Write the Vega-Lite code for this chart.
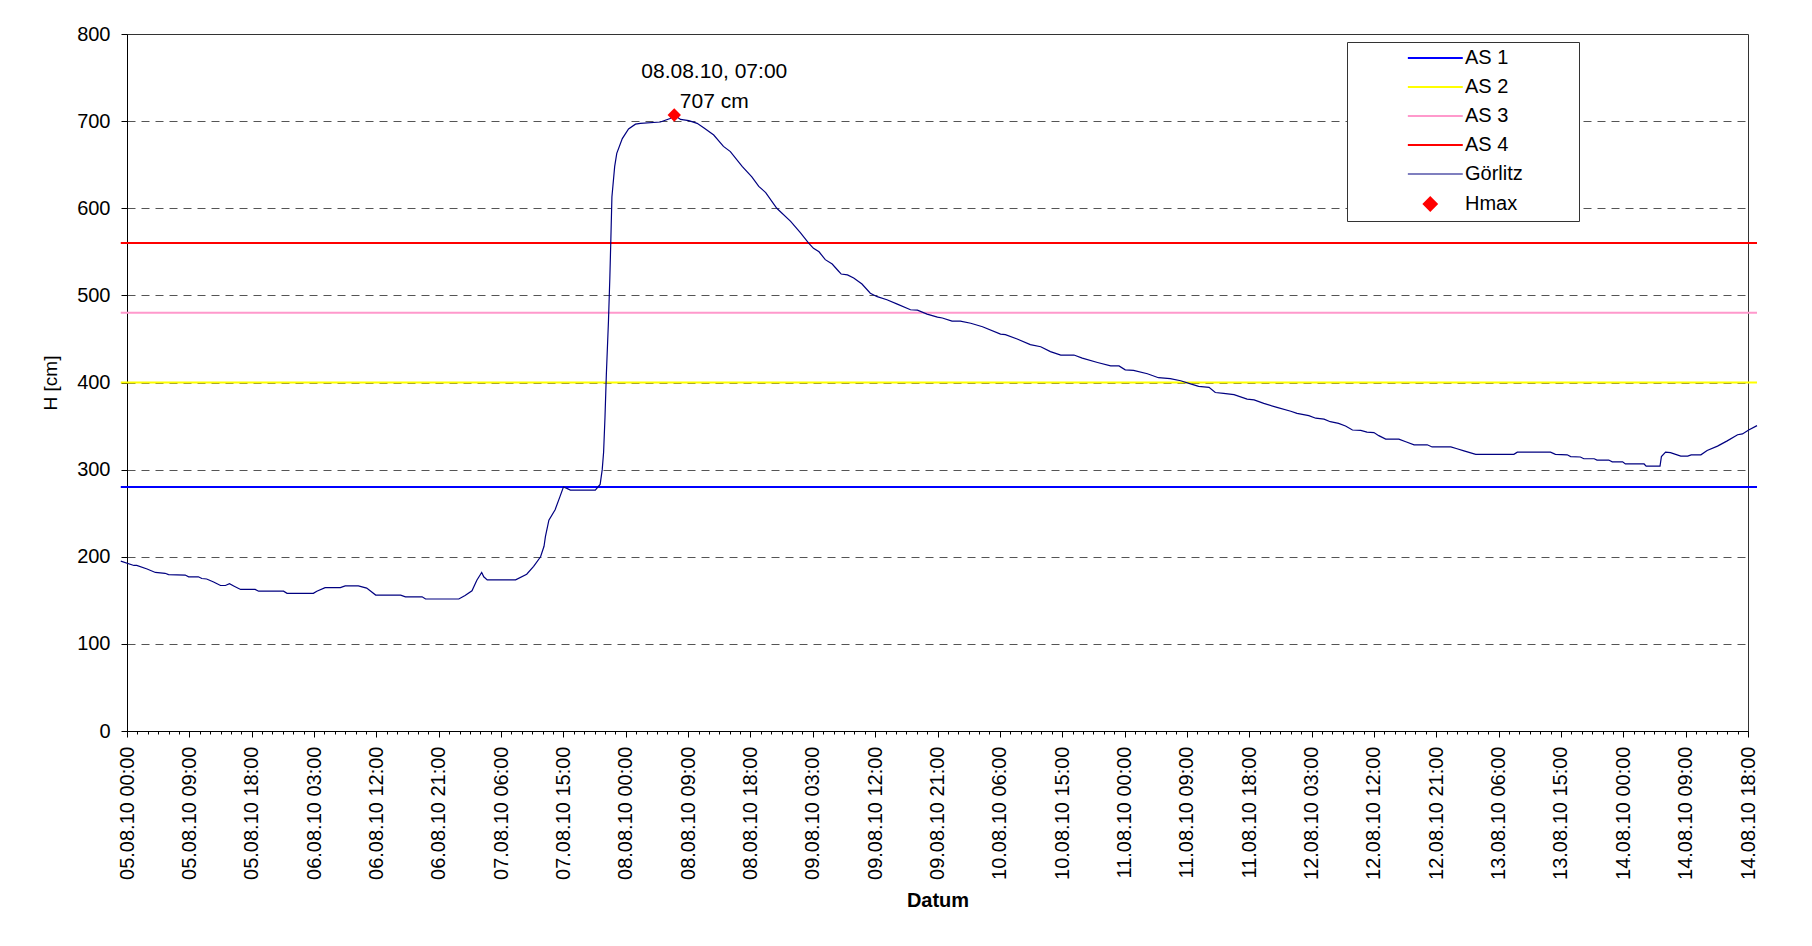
{
  "$schema": "https://vega.github.io/schema/vega-lite/v6.json",
  "width": 1621,
  "height": 697,
  "autosize": {"type": "none"},
  "padding": {"left": 127, "top": 34, "right": 64, "bottom": 215},
  "background": "white",
  "config": {
    "font": "Liberation Sans",
    "view": {"stroke": "#333", "strokeWidth": 1},
    "axis": {"labelFont": "Liberation Sans", "titleFont": "Liberation Sans", "labelColor": "black", "titleColor": "black", "domainColor": "black", "tickColor": "black"}
  },
  "datasets": {
    "levels": [
      {"series": "AS 1", "level": 280},
      {"series": "AS 2", "level": 400},
      {"series": "AS 3", "level": 480},
      {"series": "AS 4", "level": 560}
    ],
    "goerlitz": [
      {"t": "2010-08-04T23:06", "h": 195},
      {"t": "2010-08-05T01:00", "h": 190},
      {"t": "2010-08-05T01:24", "h": 190},
      {"t": "2010-08-05T02:54", "h": 186},
      {"t": "2010-08-05T04:06", "h": 182},
      {"t": "2010-08-05T05:30", "h": 181},
      {"t": "2010-08-05T06:00", "h": 179.5},
      {"t": "2010-08-05T08:24", "h": 179},
      {"t": "2010-08-05T08:54", "h": 177},
      {"t": "2010-08-05T10:18", "h": 177},
      {"t": "2010-08-05T10:48", "h": 175},
      {"t": "2010-08-05T11:30", "h": 174.5},
      {"t": "2010-08-05T12:30", "h": 171},
      {"t": "2010-08-05T13:30", "h": 167},
      {"t": "2010-08-05T14:12", "h": 167},
      {"t": "2010-08-05T14:48", "h": 169},
      {"t": "2010-08-05T15:24", "h": 166.5},
      {"t": "2010-08-05T16:24", "h": 162.5},
      {"t": "2010-08-05T18:30", "h": 162.5},
      {"t": "2010-08-05T19:00", "h": 160.5},
      {"t": "2010-08-05T22:36", "h": 160.5},
      {"t": "2010-08-05T23:06", "h": 158},
      {"t": "2010-08-06T02:54", "h": 158},
      {"t": "2010-08-06T03:24", "h": 160.5},
      {"t": "2010-08-06T04:36", "h": 164.5},
      {"t": "2010-08-06T06:48", "h": 164.5},
      {"t": "2010-08-06T07:30", "h": 166.5},
      {"t": "2010-08-06T09:24", "h": 166.5},
      {"t": "2010-08-06T10:36", "h": 164},
      {"t": "2010-08-06T11:54", "h": 156},
      {"t": "2010-08-06T15:30", "h": 156},
      {"t": "2010-08-06T16:12", "h": 154},
      {"t": "2010-08-06T18:36", "h": 154},
      {"t": "2010-08-06T19:06", "h": 151.5},
      {"t": "2010-08-06T23:54", "h": 151.5},
      {"t": "2010-08-07T00:48", "h": 155.5},
      {"t": "2010-08-07T01:48", "h": 161},
      {"t": "2010-08-07T02:30", "h": 173},
      {"t": "2010-08-07T03:12", "h": 182},
      {"t": "2010-08-07T03:30", "h": 177},
      {"t": "2010-08-07T04:00", "h": 173.5},
      {"t": "2010-08-07T08:06", "h": 173.5},
      {"t": "2010-08-07T09:42", "h": 180},
      {"t": "2010-08-07T10:42", "h": 189},
      {"t": "2010-08-07T11:42", "h": 200},
      {"t": "2010-08-07T12:12", "h": 212},
      {"t": "2010-08-07T12:24", "h": 223},
      {"t": "2010-08-07T12:54", "h": 242},
      {"t": "2010-08-07T13:48", "h": 254},
      {"t": "2010-08-07T14:30", "h": 269},
      {"t": "2010-08-07T15:00", "h": 280},
      {"t": "2010-08-07T15:30", "h": 278.5},
      {"t": "2010-08-07T16:00", "h": 276.5},
      {"t": "2010-08-07T19:36", "h": 276.5},
      {"t": "2010-08-07T20:18", "h": 283},
      {"t": "2010-08-07T20:36", "h": 300},
      {"t": "2010-08-07T20:48", "h": 320},
      {"t": "2010-08-07T21:00", "h": 360},
      {"t": "2010-08-07T21:12", "h": 410},
      {"t": "2010-08-07T21:30", "h": 470},
      {"t": "2010-08-07T21:42", "h": 520},
      {"t": "2010-08-07T21:51", "h": 565},
      {"t": "2010-08-07T22:00", "h": 613},
      {"t": "2010-08-07T22:24", "h": 648},
      {"t": "2010-08-07T22:42", "h": 663},
      {"t": "2010-08-07T23:30", "h": 680},
      {"t": "2010-08-08T00:24", "h": 691},
      {"t": "2010-08-08T01:24", "h": 696.5},
      {"t": "2010-08-08T02:06", "h": 697.5},
      {"t": "2010-08-08T05:00", "h": 699},
      {"t": "2010-08-08T06:24", "h": 703},
      {"t": "2010-08-08T07:00", "h": 707},
      {"t": "2010-08-08T07:54", "h": 702},
      {"t": "2010-08-08T09:06", "h": 700.5},
      {"t": "2010-08-08T10:18", "h": 697.5},
      {"t": "2010-08-08T11:18", "h": 692},
      {"t": "2010-08-08T12:42", "h": 684},
      {"t": "2010-08-08T14:06", "h": 671},
      {"t": "2010-08-08T15:06", "h": 665},
      {"t": "2010-08-08T16:48", "h": 648},
      {"t": "2010-08-08T18:12", "h": 636},
      {"t": "2010-08-08T19:12", "h": 625},
      {"t": "2010-08-08T20:12", "h": 618},
      {"t": "2010-08-08T21:48", "h": 600},
      {"t": "2010-08-08T23:48", "h": 585},
      {"t": "2010-08-09T01:12", "h": 572},
      {"t": "2010-08-09T02:24", "h": 560},
      {"t": "2010-08-09T03:06", "h": 554},
      {"t": "2010-08-09T03:54", "h": 550},
      {"t": "2010-08-09T04:48", "h": 541},
      {"t": "2010-08-09T05:48", "h": 536},
      {"t": "2010-08-09T06:42", "h": 528},
      {"t": "2010-08-09T07:06", "h": 524.5},
      {"t": "2010-08-09T08:00", "h": 523.5},
      {"t": "2010-08-09T08:54", "h": 520},
      {"t": "2010-08-09T10:06", "h": 513},
      {"t": "2010-08-09T11:18", "h": 502.5},
      {"t": "2010-08-09T12:18", "h": 498.5},
      {"t": "2010-08-09T13:42", "h": 495},
      {"t": "2010-08-09T15:12", "h": 490},
      {"t": "2010-08-09T17:06", "h": 483.5},
      {"t": "2010-08-09T18:06", "h": 483},
      {"t": "2010-08-09T19:30", "h": 478.5},
      {"t": "2010-08-09T21:00", "h": 475},
      {"t": "2010-08-09T21:42", "h": 474},
      {"t": "2010-08-09T23:06", "h": 470.5},
      {"t": "2010-08-10T00:18", "h": 470.5},
      {"t": "2010-08-10T01:48", "h": 468},
      {"t": "2010-08-10T03:30", "h": 464},
      {"t": "2010-08-10T06:06", "h": 455.5},
      {"t": "2010-08-10T06:48", "h": 455},
      {"t": "2010-08-10T08:30", "h": 450},
      {"t": "2010-08-10T10:24", "h": 443.5},
      {"t": "2010-08-10T11:54", "h": 441},
      {"t": "2010-08-10T13:18", "h": 435.5},
      {"t": "2010-08-10T14:48", "h": 431.5},
      {"t": "2010-08-10T16:42", "h": 431.5},
      {"t": "2010-08-10T17:54", "h": 428},
      {"t": "2010-08-10T20:06", "h": 423},
      {"t": "2010-08-10T22:00", "h": 419},
      {"t": "2010-08-10T23:12", "h": 419},
      {"t": "2010-08-11T00:06", "h": 414.5},
      {"t": "2010-08-11T01:18", "h": 414},
      {"t": "2010-08-11T03:18", "h": 410},
      {"t": "2010-08-11T04:54", "h": 405.5},
      {"t": "2010-08-11T06:36", "h": 404.5},
      {"t": "2010-08-11T08:06", "h": 402},
      {"t": "2010-08-11T09:18", "h": 399},
      {"t": "2010-08-11T10:42", "h": 395.5},
      {"t": "2010-08-11T12:12", "h": 394.5},
      {"t": "2010-08-11T13:06", "h": 388.5},
      {"t": "2010-08-11T14:18", "h": 387.5},
      {"t": "2010-08-11T15:48", "h": 386},
      {"t": "2010-08-11T17:42", "h": 381},
      {"t": "2010-08-11T18:42", "h": 380},
      {"t": "2010-08-11T20:06", "h": 376},
      {"t": "2010-08-11T22:00", "h": 371.5},
      {"t": "2010-08-12T00:00", "h": 367},
      {"t": "2010-08-12T00:54", "h": 364.5},
      {"t": "2010-08-12T02:36", "h": 362},
      {"t": "2010-08-12T03:36", "h": 359},
      {"t": "2010-08-12T04:48", "h": 358},
      {"t": "2010-08-12T05:42", "h": 355},
      {"t": "2010-08-12T06:54", "h": 353},
      {"t": "2010-08-12T07:54", "h": 350},
      {"t": "2010-08-12T08:54", "h": 345.5},
      {"t": "2010-08-12T10:06", "h": 345},
      {"t": "2010-08-12T11:00", "h": 343},
      {"t": "2010-08-12T12:00", "h": 342.5},
      {"t": "2010-08-12T12:42", "h": 339},
      {"t": "2010-08-12T13:42", "h": 335},
      {"t": "2010-08-12T15:36", "h": 335},
      {"t": "2010-08-12T16:36", "h": 332},
      {"t": "2010-08-12T17:48", "h": 328.5},
      {"t": "2010-08-12T19:42", "h": 328.5},
      {"t": "2010-08-12T20:24", "h": 326},
      {"t": "2010-08-12T23:06", "h": 326},
      {"t": "2010-08-13T00:00", "h": 324},
      {"t": "2010-08-13T01:00", "h": 321.5},
      {"t": "2010-08-13T02:42", "h": 317.5},
      {"t": "2010-08-13T08:12", "h": 317.5},
      {"t": "2010-08-13T08:42", "h": 320},
      {"t": "2010-08-13T13:30", "h": 320},
      {"t": "2010-08-13T14:12", "h": 317.5},
      {"t": "2010-08-13T15:54", "h": 317},
      {"t": "2010-08-13T16:24", "h": 315},
      {"t": "2010-08-13T17:48", "h": 314.5},
      {"t": "2010-08-13T18:18", "h": 312.5},
      {"t": "2010-08-13T19:48", "h": 312.5},
      {"t": "2010-08-13T20:12", "h": 311},
      {"t": "2010-08-13T21:54", "h": 311},
      {"t": "2010-08-13T22:24", "h": 309},
      {"t": "2010-08-13T23:54", "h": 309},
      {"t": "2010-08-14T00:18", "h": 306.5},
      {"t": "2010-08-14T03:00", "h": 306.5},
      {"t": "2010-08-14T03:18", "h": 304},
      {"t": "2010-08-14T05:18", "h": 304},
      {"t": "2010-08-14T05:30", "h": 315},
      {"t": "2010-08-14T06:06", "h": 320},
      {"t": "2010-08-14T06:48", "h": 319.5},
      {"t": "2010-08-14T08:18", "h": 315.5},
      {"t": "2010-08-14T09:18", "h": 315.5},
      {"t": "2010-08-14T09:48", "h": 317},
      {"t": "2010-08-14T11:12", "h": 317},
      {"t": "2010-08-14T12:06", "h": 322},
      {"t": "2010-08-14T13:36", "h": 327},
      {"t": "2010-08-14T15:00", "h": 333},
      {"t": "2010-08-14T16:30", "h": 340},
      {"t": "2010-08-14T17:12", "h": 341},
      {"t": "2010-08-14T18:06", "h": 345.5},
      {"t": "2010-08-14T19:18", "h": 350.5}
    ],
    "peak": [
      {"t": "2010-08-08T07:00", "h": 707, "label": ["08.08.10, 07:00", "707 cm"]}
    ]
  },
  "encoding": {
    "y": {
      "type": "quantitative",
      "scale": {"domain": [0, 800], "nice": false},
      "axis": {
        "values": [0, 100, 200, 300, 400, 500, 600, 700, 800],
        "title": "H [cm]",
        "titleFontSize": 19,
        "titleFontWeight": "normal",
        "titlePadding": 16,
        "labelFontSize": 20,
        "labelPadding": 11,
        "tickSize": 6,
        "grid": true,
        "gridColor": "#555",
        "gridDash": [8, 6],
        "gridOpacity": {"condition": {"test": "datum.value === 800 || datum.value === 0", "value": 0}, "value": 1}
      }
    }
  },
  "layer": [
    {
      "data": {"name": "levels"},
      "mark": {"type": "rule", "strokeWidth": 2},
      "encoding": {
        "x": {
          "datum": {"year": 2010, "month": 8, "date": 4, "hours": 23, "minutes": 6},
          "type": "temporal",
          "scale": {
            "domain": [
              {"year": 2010, "month": 8, "date": 5, "hours": 0},
              {"year": 2010, "month": 8, "date": 14, "hours": 18}
            ],
            "nice": false
          },
          "axis": {
            "title": "Datum",
            "titleFontSize": 20,
            "titleFontWeight": "bold",
            "titlePadding": 11,
            "values": {"expr": "sequence(datetime(2010,7,5), datetime(2010,7,14,18,1), 5400000)"},
            "tickCount": 1000,
            "labelExpr": "((datum.value - datetime(2010,7,5)) % 32400000) === 0 ? timeFormat(datum.value, '%d.%m.%y %H:%M') : ''",
            "labelAngle": 270,
            "labelFontSize": 20,
            "labelPadding": 9,
            "labelOverlap": false,
            "labelBound": false,
            "labelFlush": false,
            "tickSize": {"condition": {"test": "((datum.value - datetime(2010,7,5)) % 32400000) === 0", "value": 6}, "value": 3},
            "grid": false
          }
        },
        "x2": {"datum": {"year": 2010, "month": 8, "date": 14, "hours": 19, "minutes": 18}},
        "y": {"field": "level", "type": "quantitative"},
        "color": {
          "field": "series",
          "type": "nominal",
          "scale": {
            "domain": ["AS 1", "AS 2", "AS 3", "AS 4", "Görlitz", "Hmax"],
            "range": ["#0000FF", "#FFFF00", "#FF99CC", "#FF0000", "#000080", "#FF0000"]
          },
          "legend": {
            "orient": "none",
            "legendX": 1220,
            "legendY": 8,
            "title": null,
            "padding": 6,
            "strokeColor": "#333",
            "fillColor": "white",
            "symbolSize": 169,
            "symbolStrokeWidth": 2,
            "symbolOpacity": 1,
            "labelFont": "Liberation Sans",
            "labelFontSize": 20,
            "labelColor": "black",
            "labelOffset": 92,
            "rowPadding": 9,
            "encode": {
              "symbols": {
                "update": {
                  "shape": {"signal": "datum.value === 'Hmax' ? 'M10.35,-1L11.35,0L10.35,1L9.35,0ZM31.6,0' : 'M6.9,0H15.35M31.6,0'"},
                  "stroke": {"signal": "datum.value === 'Hmax' ? 'transparent' : scale('color', datum.value)"},
                  "fill": {"signal": "datum.value === 'Hmax' ? '#FF0000' : 'transparent'"},
                  "strokeWidth": {"signal": "datum.value === 'Görlitz' ? 1.2 : 2"},
                  "opacity": {"value": 1}
                }
              }
            }
          }
        }
      }
    },
    {
      "data": {"name": "goerlitz"},
      "mark": {"type": "line", "strokeWidth": 1.2},
      "encoding": {
        "x": {"field": "t", "type": "temporal"},
        "y": {"field": "h", "type": "quantitative"},
        "color": {"datum": "Görlitz", "type": "nominal"}
      }
    },
    {
      "data": {"name": "peak"},
      "mark": {"type": "point", "shape": "diamond", "filled": true, "size": 180, "opacity": 1},
      "encoding": {
        "x": {"field": "t", "type": "temporal"},
        "y": {"field": "h", "type": "quantitative"},
        "color": {"datum": "Hmax", "type": "nominal"}
      }
    },
    {
      "data": {"name": "peak"},
      "mark": {"type": "text", "font": "Liberation Sans", "fontSize": 21, "align": "center", "baseline": "middle", "dx": 40, "dy": -43, "lineHeight": 30, "color": "black"},
      "encoding": {
        "x": {"field": "t", "type": "temporal"},
        "y": {"field": "h", "type": "quantitative"},
        "text": {"field": "label"}
      }
    }
  ]
}
